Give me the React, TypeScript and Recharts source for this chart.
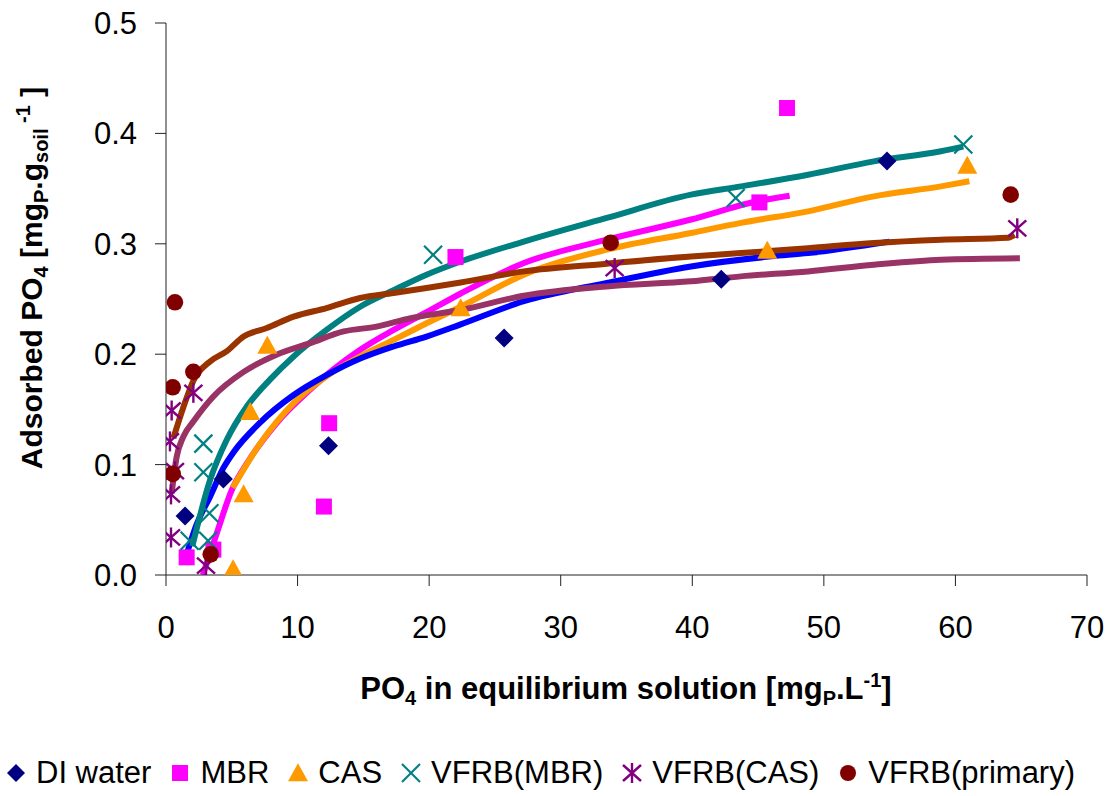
import React from "react";
import { ComposedChart, XAxis, YAxis, Scatter, Line, Legend } from "recharts";

// ---------- measured data ----------
const diX = [1.45, 4.36, 12.35, 25.7, 42.2, 54.8];
const diY = [0.0535, 0.087, 0.117, 0.2146, 0.268, 0.375];

const mbrX = [1.57, 3.6, 12.0, 12.4, 22.0, 45.1, 47.2];
const mbrY = [0.016, 0.023, 0.062, 0.1375, 0.288, 0.3375, 0.423];

const casX = [5.1, 5.9, 6.4, 7.7, 22.4, 45.7, 60.9];
const casY = [0.0045, 0.0725, 0.147, 0.207, 0.241, 0.293, 0.37];

const vmbrX = [1.8, 2.84, 2.84, 3.2, 3.3, 20.3, 43.3, 60.6];
const vmbrY = [0.031, 0.119, 0.093, 0.031, 0.056, 0.29, 0.3415, 0.39];

const vcasX = [0.3, 0.38, 0.38, 0.43, 0.68, 2.08, 3.04, 34.1, 64.7];
const vcasY = [0.121, 0.073, 0.034, 0.149, 0.094, 0.165, 0.0085, 0.278, 0.314];

const vprimX = [0.51, 0.51, 0.68, 2.08, 3.4, 33.8, 64.2];
const vprimY = [0.0916, 0.17, 0.247, 0.184, 0.0187, 0.301, 0.3445];

// fitted curves
const diFitX = [1.37, 2.33, 3.35, 4.36, 5.12, 7.15, 9.7, 12.2, 14.76, 17.3, 19.8, 22.4, 27.2, 33.5, 39.9, 46.0, 48.8, 55.0];
const diFitY = [0.011, 0.046, 0.071, 0.097, 0.111, 0.138, 0.163, 0.181, 0.196, 0.207, 0.216, 0.227, 0.248, 0.2645, 0.2795, 0.2886, 0.2916, 0.302];

const mbrFitX = [2.8, 3.86, 5.0, 6.14, 8.4, 10.96, 12.7, 14.76, 17.3, 19.8, 22.4, 27.2, 33.5, 39.9, 44.95, 47.4];
const mbrFitY = [0.0, 0.0378, 0.077, 0.101, 0.1375, 0.168, 0.186, 0.204, 0.222, 0.238, 0.255, 0.2826, 0.3037, 0.322, 0.3385, 0.3436];

const casFitX = [5.07, 7.15, 9.7, 12.2, 14.76, 17.3, 19.8, 22.4, 27.2, 33.5, 39.9, 43.7, 48.8, 53.8, 58.9, 61.06];
const casFitY = [0.079, 0.119, 0.1557, 0.18, 0.198, 0.213, 0.228, 0.243, 0.272, 0.2947, 0.3098, 0.319, 0.3294, 0.343, 0.352, 0.3566];

const vmbrFitX = [2.0, 3.35, 4.6, 6.14, 7.9, 9.7, 12.2, 14.76, 17.3, 19.8, 22.4, 27.2, 33.5, 39.9, 43.7, 48.8, 53.8, 58.9, 60.6];
const vmbrFitY = [0.026, 0.086, 0.122, 0.1526, 0.177, 0.198, 0.222, 0.243, 0.258, 0.272, 0.284, 0.302, 0.3234, 0.3445, 0.352, 0.3626, 0.3747, 0.3838, 0.388];

const vcasFitX = [0.43, 0.81, 1.32, 2.08, 3.6, 5.9, 8.4, 10.96, 13.5, 16.0, 18.6, 22.4, 27.2, 33.5, 39.9, 43.7, 48.8, 53.8, 58.9, 64.9];
const vcasFitY = [0.074, 0.107, 0.1254, 0.139, 0.1617, 0.184, 0.1995, 0.21, 0.2206, 0.225, 0.2327, 0.24, 0.253, 0.2614, 0.266, 0.2705, 0.275, 0.281, 0.2856, 0.287];

const vprimFitX = [0.56, 1.32, 2.08, 3.35, 4.6, 5.9, 7.66, 9.7, 12.2, 14.76, 17.3, 19.8, 22.4, 27.2, 33.5, 39.9, 43.7, 48.8, 53.8, 58.9, 64.0, 64.5];
const vprimFitY = [0.124, 0.152, 0.176, 0.1934, 0.2025, 0.216, 0.2237, 0.234, 0.2418, 0.2509, 0.2554, 0.26, 0.265, 0.275, 0.282, 0.2886, 0.2916, 0.296, 0.3007, 0.3037, 0.3055, 0.308];

const xTicks = [0, 10, 20, 30, 40, 50, 60, 70];
const yTicks = [0, 0.1, 0.2, 0.3, 0.4, 0.5];

const seriesNames = ["DI water", "MBR", "CAS", "VFRB(MBR)", "VFRB(CAS)", "VFRB(primary)"];

const zip = (xs: number[], ys: number[]) => xs.map((x, i) => ({ x, y: ys[i] }));

// ---------- colours ----------
const C = {
  di: "#000080",
  mbr: "#FF00FF",
  cas: "#FF9900",
  vmbr: "#008080",
  vcas: "#800080",
  vprim: "#800000",
  diFit: "#0000FF",
  mbrFit: "#FF00FF",
  casFit: "#FF9900",
  vmbrFit: "#008080",
  vcasFit: "#993366",
  vprimFit: "#993300",
};

const FONT = "'Liberation Sans', Arial, sans-serif";

// ---------- marker shapes ----------
const diamondPath = (cx: number, cy: number, r: number) =>
  `M${cx},${cy - r}L${cx + r},${cy}L${cx},${cy + r}L${cx - r},${cy}Z`;
const trianglePath = (cx: number, cy: number, s: number) => {
  const h = s * 0.9;
  return `M${cx},${cy - h * 0.6}L${cx + s / 2},${cy + h * 0.4}L${cx - s / 2},${cy + h * 0.4}Z`;
};

const DiamondShape = (p: any) => <path d={diamondPath(p.cx, p.cy, 9.5)} fill={C.di} />;
const SquareShape = (p: any) => <rect x={p.cx - 8} y={p.cy - 8} width={16} height={16} fill={C.mbr} />;
const TriangleShape = (p: any) => <path d={trianglePath(p.cx, p.cy, 20)} fill={C.cas} />;
const XShape = (p: any) => (
  <g stroke={C.vmbr} strokeWidth={2.2}>
    <line x1={p.cx - 9} y1={p.cy - 9} x2={p.cx + 9} y2={p.cy + 9} />
    <line x1={p.cx - 9} y1={p.cy + 9} x2={p.cx + 9} y2={p.cy - 9} />
  </g>
);
const StarShape = (p: any) => (
  <g stroke={C.vcas} strokeWidth={2.4}>
    <line x1={p.cx - 9} y1={p.cy - 8} x2={p.cx + 9} y2={p.cy + 8} />
    <line x1={p.cx - 9} y1={p.cy + 8} x2={p.cx + 9} y2={p.cy - 8} />
    <line x1={p.cx} y1={p.cy - 10} x2={p.cx} y2={p.cy + 10} />
  </g>
);
const CircleShape = (p: any) => <circle cx={p.cx} cy={p.cy} r={8.3} fill={C.vprim} />;

// ---------- legend ----------
const legendIcons = [
  <svg width={22} height={22}><path d={diamondPath(11, 11, 9)} fill={C.di} /></svg>,
  <svg width={22} height={22}><rect x={3} y={3} width={16} height={16} fill={C.mbr} /></svg>,
  <svg width={22} height={22}><path d={trianglePath(11, 12, 20)} fill={C.cas} /></svg>,
  <svg width={22} height={22}><XShape cx={11} cy={11} /></svg>,
  <svg width={22} height={22}><StarShape cx={11} cy={11} /></svg>,
  <svg width={22} height={22}><circle cx={11} cy={11} r={8} fill={C.vprim} /></svg>,
];

const LegendRow = () => (
  <div
    style={{
      display: "flex",
      alignItems: "center",
      height: 46,
      paddingLeft: 5,
      fontFamily: FONT,
      fontSize: 31,
      color: "#000",
      whiteSpace: "nowrap",
    }}
  >
    {seriesNames.map((n, i) => (
      <div key={n} style={{ display: "flex", alignItems: "center", marginRight: 18 }}>
        {legendIcons[i]}
        <span style={{ marginLeft: 9 }}>{n}</span>
      </div>
    ))}
  </div>
);

// ---------- axis titles ----------
const XTitle = () => (
  <text x={626} y={699} textAnchor="middle" fontFamily={FONT} fontWeight="bold" fontSize={31} fill="#000">
    <tspan>PO</tspan>
    <tspan fontSize={20} dy={6}>4</tspan>
    <tspan dy={-6}> in equilibrium solution [mg</tspan>
    <tspan fontSize={20} dy={6}>P</tspan>
    <tspan dy={-6}>.L</tspan>
    <tspan fontSize={20} dy={-12}>-1</tspan>
    <tspan dy={12}>]</tspan>
  </text>
);

const YTitle = () => (
  <text
    x={0}
    y={0}
    transform="translate(42,278) rotate(-90)"
    textAnchor="middle"
    fontFamily={FONT}
    fontWeight="bold"
    fontSize={30}
    fill="#000"
  >
    <tspan>Adsorbed PO</tspan>
    <tspan fontSize={20} dy={6}>4</tspan>
    <tspan dy={-6}> [mg</tspan>
    <tspan fontSize={20} dy={6}>P</tspan>
    <tspan dy={-6}>.g</tspan>
    <tspan fontSize={20} dy={6}>soil</tspan>
    <tspan fontSize={20} dy={-18}> -1</tspan>
    <tspan dy={12}> ]</tspan>
  </text>
);

const tickStyle = { fontFamily: FONT, fontSize: 31, fill: "#000" };

const fitProps = {
  dataKey: "y",
  type: "monotone" as const,
  strokeWidth: 6,
  strokeLinejoin: "round" as const,
  dot: false,
  activeDot: false,
  legendType: "none" as const,
  isAnimationActive: false,
};

export default function App() {
  return (
    <div style={{ position: "absolute", left: 0, top: 0, width: 1111, height: 796, background: "#fff" }}>
      <ComposedChart width={1111} height={796} margin={{ top: 23, right: 24, bottom: 0, left: 0 }}>
        <XAxis
          type="number"
          dataKey="x"
          domain={[0, 70]}
          ticks={xTicks}
          interval={0}
          height={221}
          tickSize={11}
          tickMargin={30}
          tick={tickStyle}
          stroke="#222"
          allowDataOverflow
          label={{ content: () => <XTitle /> }}
        />
        <YAxis
          type="number"
          dataKey="y"
          domain={[0, 0.5]}
          ticks={yTicks}
          interval={0}
          width={166}
          tickSize={11}
          tickMargin={18}
          tick={tickStyle}
          stroke="#222"
          tickFormatter={(v: number) => v.toFixed(1)}
          allowDataOverflow
          label={{ content: () => <YTitle /> }}
        />

        <Scatter name={seriesNames[0]} data={zip(diX, diY)} shape={DiamondShape} isAnimationActive={false} />
        <Scatter name={seriesNames[1]} data={zip(mbrX, mbrY)} shape={SquareShape} isAnimationActive={false} />
        <Scatter name={seriesNames[2]} data={zip(casX, casY)} shape={TriangleShape} isAnimationActive={false} />
        <Scatter name={seriesNames[3]} data={zip(vmbrX, vmbrY)} shape={XShape} isAnimationActive={false} />
        <Scatter name={seriesNames[4]} data={zip(vcasX, vcasY)} shape={StarShape} isAnimationActive={false} />
        <Scatter name={seriesNames[5]} data={zip(vprimX, vprimY)} shape={CircleShape} isAnimationActive={false} />

        <Line {...fitProps} data={zip(mbrFitX, mbrFitY)} stroke={C.mbrFit} />
        <Line {...fitProps} data={zip(casFitX, casFitY)} stroke={C.casFit} />
        <Line {...fitProps} data={zip(diFitX, diFitY)} stroke={C.diFit} />
        <Line {...fitProps} data={zip(vmbrFitX, vmbrFitY)} stroke={C.vmbrFit} />
        <Line {...fitProps} data={zip(vcasFitX, vcasFitY)} stroke={C.vcasFit} />
        <Line {...fitProps} data={zip(vprimFitX, vprimFitY)} stroke={C.vprimFit} />

        <Legend
          layout="horizontal"
          verticalAlign="middle"
          align="center"
          wrapperStyle={{ top: 750, left: 0, width: 1111 }}
          content={() => <LegendRow />}
        />
      </ComposedChart>
    </div>
  );
}
